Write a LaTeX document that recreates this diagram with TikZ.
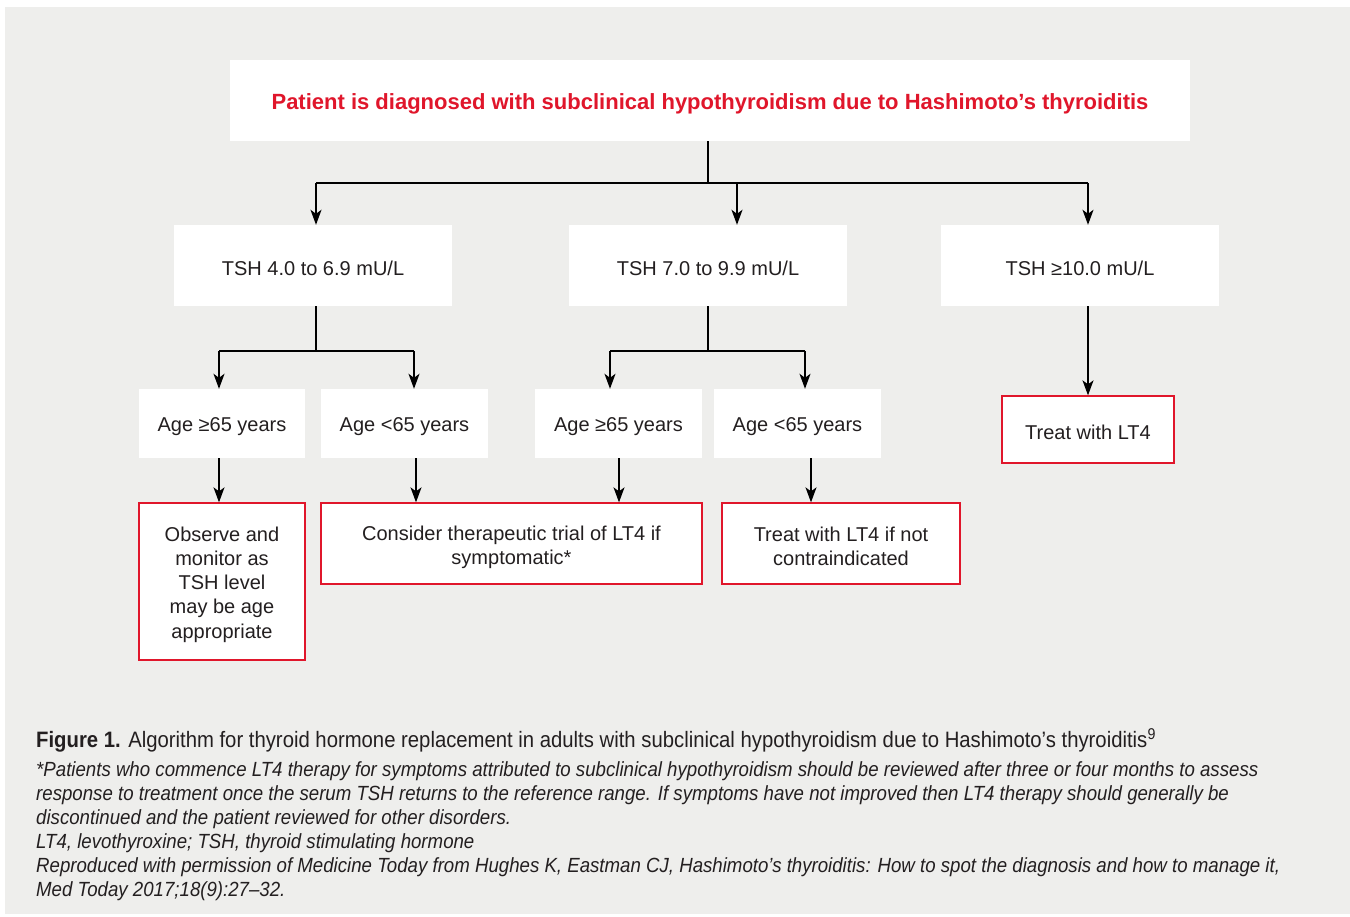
\documentclass[tikz,border=0pt]{standalone}
\usepackage{fontspec}
\setmainfont{Liberation Sans}
\newfontfamily\capfont[FakeStretch=0.91]{Liberation Sans}
\usetikzlibrary{arrows.meta}
\definecolor{bg}{RGB}{238,238,236}
\definecolor{fred}{RGB}{224,22,43}
\definecolor{ink}{RGB}{35,31,32}
\newcommand{\tstrut}[1]{\rule{0pt}{#1}}
\begin{document}
\begin{tikzpicture}[x=1pt,y=-1pt,
  wbox/.style={fill=white, draw=none, inner sep=0pt, align=center, text=ink,
    font=\fontsize{20}{24.3}\selectfont, execute at begin node={\tstrut{19.5pt}}},
  rbox/.style={wbox, draw=fred, line width=1.3pt},
  multi/.style={execute at begin node={}},
  ln/.style={line width=1.4pt, draw=black},
  arr/.style={ln, -{Stealth[length=15pt,width=11pt,inset=4pt]}},
  captext/.style={anchor=base west, inner sep=0pt, text=ink, font=\capfont\fontsize{20.5}{24}\selectfont\itshape}
]
\useasboundingbox (0,0) rectangle (1350,917);
\fill[white] (0,0) rectangle (1350,917);
\fill[bg] (5,7) rectangle (1350,914);

% boxes
\node[wbox, minimum width=960pt, minimum height=81pt, text=fred, font=\bfseries\fontsize{22}{26}\selectfont,
  execute at begin node={\tstrut{22pt}}] (top) at (710,100.5)
  {Patient is diagnosed with subclinical hypothyroidism due to Hashimoto’s thyroiditis};
\node[wbox, minimum width=278pt, minimum height=81pt] (A) at (313,265.5) {TSH 4.0 to 6.9 mU/L};
\node[wbox, minimum width=278pt, minimum height=81pt] (B) at (708,265.5) {TSH 7.0 to 9.9 mU/L};
\node[wbox, minimum width=278pt, minimum height=81pt] (C) at (1080,265.5) {TSH ≥10.0 mU/L};

\node[wbox, minimum width=166pt, minimum height=69pt] (A1) at (222,423.5) {Age ≥65 years};
\node[wbox, minimum width=167pt, minimum height=69pt] (A2) at (404.5,423.5) {Age <65 years};
\node[wbox, minimum width=167pt, minimum height=69pt] (B1) at (618.5,423.5) {Age ≥65 years};
\node[wbox, minimum width=167pt, minimum height=69pt] (B2) at (797.5,423.5) {Age <65 years};

\node[rbox, minimum width=172pt, minimum height=67pt, execute at begin node={\tstrut{16.5pt}}] (T) at (1088,429.5) {Treat with LT4};
\node[rbox, multi, minimum width=166pt, minimum height=157pt] (O) at (222,581.5)
  {\tstrut{20.5pt}Observe and\\monitor as\\TSH level\\may be age\\appropriate};
\node[rbox, multi, minimum width=381pt, minimum height=81pt] (K) at (511.5,543.5)
  {\tstrut{22.5pt}Consider therapeutic trial of LT4 if\\symptomatic*};
\node[rbox, multi, minimum width=238pt, minimum height=81pt] (N) at (841,543.5)
  {\tstrut{20.5pt}Treat with LT4 if not\\contraindicated};

% junction coordinates
\coordinate (j0) at (708,183);
\coordinate (jA) at (316,183);
\coordinate (jB) at (737,183);
\coordinate (jC) at (1088,183);
\coordinate (kA) at (316,351);
\coordinate (kA1) at (219,351);
\coordinate (kA2) at (414,351);
\coordinate (kB) at (708,351);
\coordinate (kB1) at (610,351);
\coordinate (kB2) at (805,351);

% connectors
\draw[ln] (top.south -| j0) -- (j0);
\draw[ln] (jA) -- (jC);
\draw[arr] (jA) -- (jA |- A.north);
\draw[arr] (jB) -- (jB |- B.north);
\draw[arr] (jC) -- (jC |- C.north);

\draw[ln] (A.south -| kA) -- (kA);
\draw[ln] (kA1) -- (kA2);
\draw[arr] (kA1) -- (kA1 |- A1.north);
\draw[arr] (kA2) -- (kA2 |- A2.north);

\draw[ln] (B.south -| kB) -- (kB);
\draw[ln] (kB1) -- (kB2);
\draw[arr] (kB1) -- (kB1 |- B1.north);
\draw[arr] (kB2) -- (kB2 |- B2.north);

\draw[arr] (C.south -| jC) -- (jC |- T.north);

\coordinate (m1) at (219,0);
\coordinate (m2) at (416,0);
\coordinate (m3) at (619,0);
\coordinate (m4) at (811,0);
\draw[arr] (A1.south -| m1) -- (m1 |- O.north);
\draw[arr] (A2.south -| m2) -- (m2 |- K.north);
\draw[arr] (B1.south -| m3) -- (m3 |- K.north);
\draw[arr] (B2.south -| m4) -- (m4 |- N.north);

% caption
\node[captext, font=\capfont\fontsize{22.3}{24}\selectfont] (c1) at (36,747)
  {\textbf{Figure 1.} Algorithm for thyroid hormone replacement in adults with subclinical hypothyroidism due to Hashimoto’s thyroiditis\textsuperscript{9}};
\node[captext] (c2) at (36,776) {*Patients who commence LT4 therapy for symptoms attributed to subclinical hypothyroidism should be reviewed after three or four months to assess};
\node[captext] (c3) at (36,800) {response to treatment once the serum TSH returns to the reference range. If symptoms have not improved then LT4 therapy should generally be};
\node[captext] (c4) at (36,824) {discontinued and the patient reviewed for other disorders.};
\node[captext] (c5) at (36,848) {LT4, levothyroxine; TSH, thyroid stimulating hormone};
\node[captext] (c6) at (36,872) {Reproduced with permission of Medicine Today from Hughes K, Eastman CJ, Hashimoto’s thyroiditis: How to spot the diagnosis and how to manage it,};
\node[captext] (c7) at (36,896) {Med Today 2017;18(9):27–32.};
\end{tikzpicture}
\end{document}
